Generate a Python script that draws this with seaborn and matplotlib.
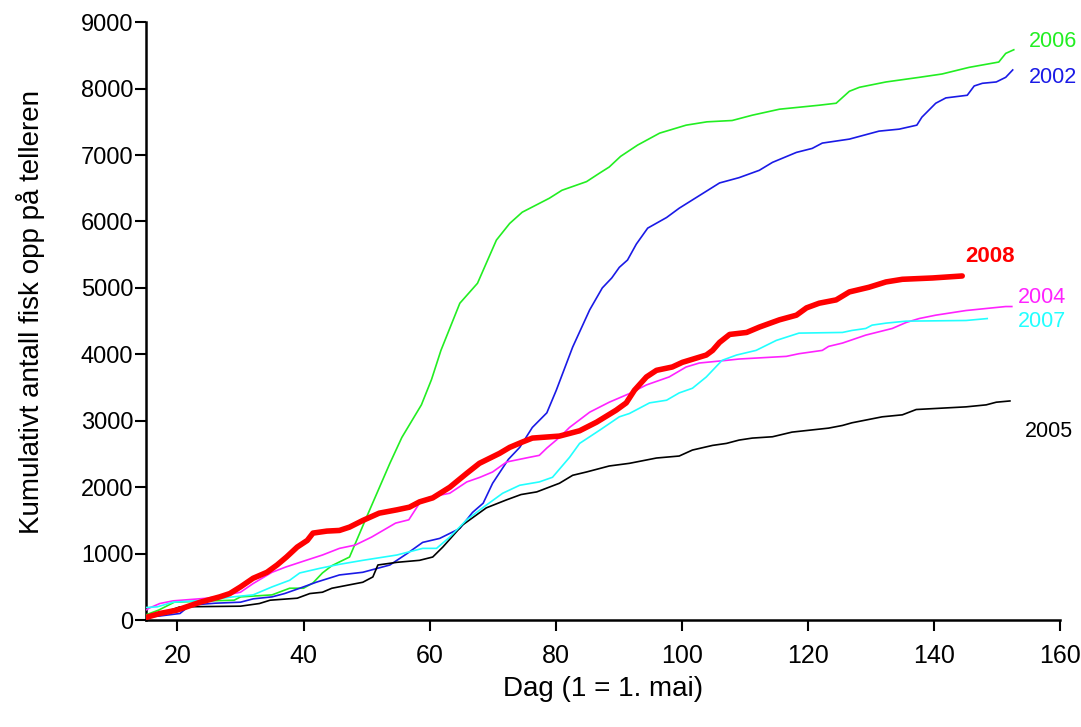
import pandas as pd
import matplotlib
matplotlib.use("Agg")
import matplotlib.pyplot as plt
import seaborn as sns

# ── Data (dag, kumulativt antall) ────────────────────────────────────────────
day_2006 = [15, 17, 19.5, 25, 29, 30, 35, 37.8, 40, 41.5, 43, 44.5, 47.3, 50, 53.7,
            55.6, 58.7, 60.3, 61.8, 64.8, 67.6, 70.6, 72.7, 74.7, 79, 81, 84.9, 87,
            88.5, 90.3, 93, 96.5, 100.7, 104, 108, 111.2, 115.5, 121.8, 124.5, 126.6,
            128.2, 132.4, 137.7, 141.3, 145.6, 150.3, 151.4, 152.8]
val_2006 = [80, 150, 270, 290, 300, 350, 380, 480, 480, 560, 710, 820, 950, 1550, 2360,
            2750, 3240, 3620, 4060, 4770, 5070, 5720, 5970, 6140, 6350, 6470, 6600, 6730,
            6820, 6980, 7150, 7330, 7450, 7500, 7520, 7600, 7690, 7750, 7780, 7960,
            8020, 8100, 8170, 8220, 8320, 8400, 8530, 8590]

day_2002 = [15, 17, 20.4, 22, 26, 30, 32, 35, 37, 39.4, 42, 45.7, 49.4, 53.7, 56.4,
            58.9, 61.6, 64.8, 66.8, 68.5, 70, 72.5, 74.3, 76.3, 78.6, 80.1, 82.7, 85.4,
            87.4, 88.9, 90.1, 91.4, 92.8, 94.6, 97.6, 99.6, 102.8, 106, 109.1, 112.3,
            114.4, 118.2, 120.7, 122.3, 126.6, 131.3, 134.5, 137.3, 138.1, 140.3, 141.9,
            145.3, 146.4, 147.7, 149.9, 151.4, 152.6]
val_2002 = [50, 60, 100, 225, 255, 270, 320, 350, 400, 480, 570, 680, 720, 830, 1000,
            1170, 1230, 1380, 1620, 1760, 2060, 2420, 2600, 2900, 3120, 3460, 4110, 4670,
            5000, 5150, 5310, 5420, 5660, 5900, 6060, 6200, 6390, 6580, 6660, 6770,
            6890, 7040, 7100, 7180, 7240, 7360, 7390, 7450, 7570, 7780, 7860,
            7900, 8040, 8080, 8100, 8170, 8290]

day_2005 = [15, 18, 20.4, 30, 33, 34.7, 39, 41, 43, 44.5, 49.4, 51, 51.8, 54.8, 58.4,
            60.5, 62.1, 65.2, 69, 72.2, 74.5, 77, 80.6, 82.7, 84.9, 88.5, 91.7, 96, 99.6,
            101.7, 104.9, 107.1, 109.1, 111.2, 114.4, 117.5, 123.3, 125.5, 127, 130.2,
            131.8, 135, 137.2, 145.1, 148.3, 149.9, 152.2]
val_2005 = [60, 120, 200, 210, 250, 300, 330, 400, 420, 480, 570, 650, 830, 870, 900,
            950, 1100, 1430, 1690, 1810, 1890, 1930, 2060, 2180, 2230, 2320, 2360, 2440, 2470,
            2560, 2630, 2660, 2710, 2740, 2760, 2830, 2890, 2930, 2970, 3030,
            3060, 3090, 3170, 3210, 3240, 3280, 3300]

day_2004 = [15, 15.5, 17.2, 19.3, 24.7, 27.8, 30, 32, 35, 37.2, 40.4, 43, 45.7, 48.2,
            50.8, 54.6, 56.7, 58.4, 60, 63.2, 65.9, 68, 70, 72.2, 75.8, 77.4, 78.6, 80.6,
            82.2, 85.4, 88.5, 91.7, 94.4, 98, 100.7, 102.8, 107.1, 109.1, 116.6, 118.6,
            122.3, 123.3, 125.5, 129.2, 133.4, 135.6, 137.7, 140.3, 145.1, 151.4, 152.5]
val_2004 = [150, 180, 250, 290, 330, 380, 420, 550, 720, 800, 900, 980, 1080, 1130,
            1250, 1460, 1510, 1760, 1850, 1910, 2080, 2150, 2230, 2380, 2450, 2480, 2590, 2750,
            2900, 3130, 3280, 3410, 3540, 3660, 3810, 3870, 3910, 3930, 3970, 4010,
            4060, 4120, 4170, 4290, 4390, 4480, 4540, 4590, 4660, 4720, 4720]

day_2007 = [15, 16.8, 19.3, 24.7, 28.8, 32, 35, 37.8, 39.4, 42.6, 45.7, 49.4, 54.8, 58.9,
            61.1, 63.2, 65.9, 68.4, 71.6, 74.3, 77.4, 79.5, 82.2, 83.8, 87, 90.1, 91.7,
            94.9, 97.6, 99.6, 101.7, 103.9, 106.4, 108.7, 111.8, 115, 118.6, 125.5, 127,
            129.2, 130.2, 132.4, 135.6, 145.1, 148.6]
val_2007 = [190, 200, 270, 300, 350, 380, 500, 600, 710, 780, 840, 900, 980, 1080,
            1080, 1250, 1510, 1690, 1910, 2030, 2080, 2150, 2450, 2660, 2860, 3060, 3110,
            3270, 3310, 3420, 3490, 3660, 3910, 3990, 4060, 4210, 4320, 4330, 4360,
            4390, 4440, 4470, 4500, 4510, 4540]

day_2008 = [15, 17.2, 19.9, 23.6, 26.7, 28.3, 30, 32, 34.2, 35.8, 37.3, 39, 40.6, 41.5,
            43.7, 45.7, 47.3, 49.4, 52, 54.8, 56.8, 58.4, 60.5, 63.2, 65.9, 67.9, 71.1,
            72.7, 74.7, 76.3, 80.6, 83.8, 86.5, 89.6, 91.2, 92.5, 94.4, 96, 98.5, 100.1,
            103.9, 104.9, 106, 107.6, 110.3, 112.3, 115.5, 118.2, 119.8, 121.8, 124.5,
            126.6, 129.7, 132.4, 135, 139.8, 144.5]
val_2008 = [40, 100, 150, 270, 350, 400, 500, 630, 720, 830, 950, 1100, 1200, 1310,
            1340, 1350, 1400, 1500, 1610, 1660, 1700, 1780, 1840, 2000, 2210, 2360, 2510,
            2600, 2680, 2740, 2770, 2850, 2980, 3160, 3270, 3460, 3660, 3760, 3810, 3880,
            3990, 4060, 4180, 4300, 4330, 4410, 4520, 4590, 4700, 4770, 4820,
            4940, 5010, 5090, 5130, 5150, 5180]

series = {
    "2006": (day_2006, val_2006, "#22ee22"),
    "2002": (day_2002, val_2002, "#1a1ae6"),
    "2005": (day_2005, val_2005, "black"),
    "2004": (day_2004, val_2004, "#ff22ff"),
    "2007": (day_2007, val_2007, "#22ffff"),
    "2008": (day_2008, val_2008, "#ff0000"),
}

# etikett-plassering (dag, verdi) til høyre for kurvene
label_pos = {
    "2006": (155.0, 8715),
    "2002": (155.0, 8170),
    "2004": (153.4, 4850),
    "2007": (153.4, 4500),
    "2005": (154.5, 2845),
    "2008": (145.0, 5480),
}

# ── Plot ────────────────────────────────────────────────────────────────────
sns.set_style("white")
plt.rcParams["font.family"] = ["Liberation Sans", "DejaVu Sans"]
plt.rcParams["text.color"] = "black"
plt.rcParams["axes.labelcolor"] = "black"
plt.rcParams["xtick.color"] = "black"
plt.rcParams["ytick.color"] = "black"

fig = plt.figure(figsize=(10.81, 7.27), dpi=100)
ax = fig.add_axes([0.135, 0.147, 0.8455, 0.8225])

for year, (d, v, col) in series.items():
    df = pd.DataFrame({"Dag": d, "Antall": v})
    bold = year == "2008"
    sns.lineplot(data=df, x="Dag", y="Antall", color=col,
                 linewidth=4.0 if bold else 1.2, ax=ax,
                 zorder=5 if bold else 3, solid_capstyle="round" if bold else "butt",
                 estimator=None, sort=False)
    lx, ly = label_pos[year]
    ax.text(lx, ly, year, color=col, fontsize=16 if bold else 15.5,
            va="center", ha="left",
            fontweight="bold" if bold else "normal", clip_on=False)

ax.set_xlim(15, 160)
ax.set_ylim(0, 9000)
ax.set_xticks(range(20, 161, 20))
ax.set_yticks(range(0, 9001, 1000))

for s in ["top", "right"]:
    ax.spines[s].set_visible(False)
for s in ["left", "bottom"]:
    ax.spines[s].set_linewidth(1.8)
    ax.spines[s].set_color("black")

ax.tick_params(axis="both", direction="out", length=8, width=1.5, color="black",
               labelcolor="black", left=True, bottom=True)
ax.tick_params(axis="y", labelsize=17, pad=1)
ax.tick_params(axis="x", labelsize=18, pad=9)

ax.set_xlabel("Dag (1 = 1. mai)", fontsize=20, labelpad=6, color="black")
ax.set_ylabel("Kumulativt antall fisk opp på telleren", fontsize=20, labelpad=26,
              color="black")
ax.yaxis.label.set_y(0.515)

plt.savefig("out.png", dpi=100)
plt.close()
